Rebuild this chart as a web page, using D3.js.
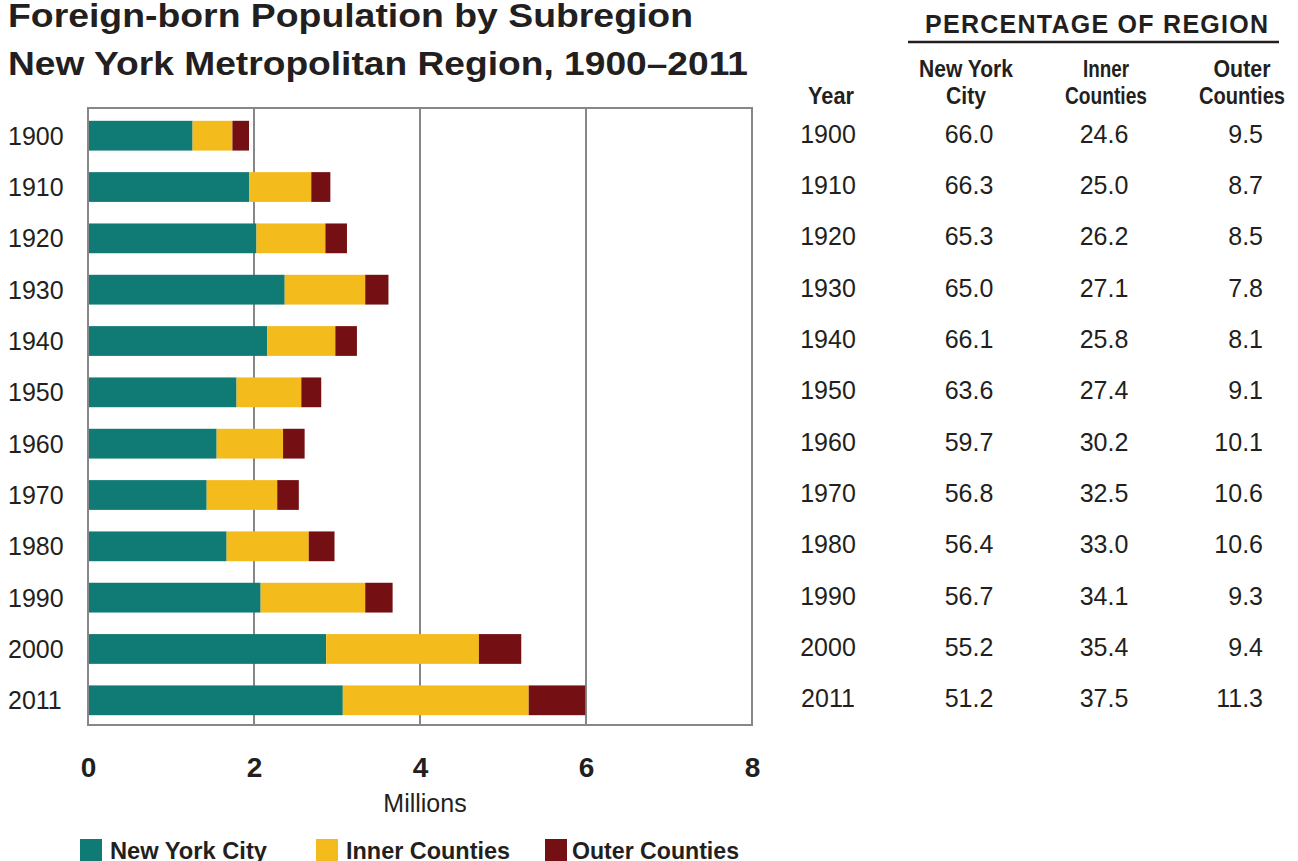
<!DOCTYPE html>
<html>
<head>
<meta charset="utf-8">
<script src="https://cdn.jsdelivr.net/npm/d3@7"></script>
<style>
  html, body { margin: 0; padding: 0; background: #fff; }
  svg { display: block; font-family: "Liberation Sans", Arial, Helvetica, sans-serif; }
</style>
</head>
<body>
<svg id="chart" width="1298" height="861"></svg>
<script>
// ---- Data ----
const years = ["1900","1910","1920","1930","1940","1950","1960","1970","1980","1990","2000","2011"];
const seriesNames = ["New York City","Inner Counties","Outer Counties"];
const nycMillions   = [1.26, 1.94, 2.03, 2.37, 2.16, 1.79, 1.55, 1.43, 1.67, 2.08, 2.87, 3.07];
const innerMillions = [0.48, 0.75, 0.83, 0.97, 0.82, 0.78, 0.80, 0.85, 0.99, 1.26, 1.84, 2.24];
const outerMillions = [0.20, 0.23, 0.26, 0.28, 0.26, 0.24, 0.26, 0.26, 0.31, 0.33, 0.51, 0.68];
const nycPct   = ["66.0","66.3","65.3","65.0","66.1","63.6","59.7","56.8","56.4","56.7","55.2","51.2"];
const innerPct = ["24.6","25.0","26.2","27.1","25.8","27.4","30.2","32.5","33.0","34.1","35.4","37.5"];
const outerPct = ["9.5","8.7","8.5","7.8","8.1","9.1","10.1","10.6","10.6","9.3","9.4","11.3"];
const xTicks = [0, 2, 4, 6, 8];
const colors = ["#107a74", "#f3bb1c", "#741013"];

const svg = d3.select("#chart");

// ---- Title ----
const title = svg.append("g").attr("fill", "#231f20").attr("font-weight", "bold").attr("font-size", 34);
title.append("text").attr("x", 8).attr("y", 27).attr("textLength", 685).attr("lengthAdjust", "spacingAndGlyphs")
  .text("Foreign-born Population by Subregion");
title.append("text").attr("x", 8).attr("y", 75).attr("textLength", 740).attr("lengthAdjust", "spacingAndGlyphs")
  .text("New York Metropolitan Region, 1900\u20132011");

// ---- Scales ----
const plot = {left: 88, right: 752, top: 108, bottom: 725};
const x = d3.scaleLinear().domain([0, 8]).range([plot.left, plot.right]);
const y = d3.scaleBand().domain(years).range([109, 727]).paddingInner(0.42).paddingOuter(0.23);

// stacked data
const rows = years.map((yr, i) => ({year: yr, nyc: nycMillions[i], inner: innerMillions[i], outer: outerMillions[i]}));
const stack = d3.stack().keys(["nyc", "inner", "outer"]);
const stacked = stack(rows);

// ---- Gridlines ----
svg.append("g").selectAll("line").data(xTicks.filter(t => t > 0 && t < 8)).join("line")
  .attr("x1", d => x(d)).attr("x2", d => x(d))
  .attr("y1", plot.top).attr("y2", plot.bottom)
  .attr("stroke", "#878787").attr("stroke-width", 2);

// ---- Bars ----
svg.append("g").selectAll("g").data(stacked).join("g")
  .attr("fill", (d, i) => colors[i])
  .selectAll("rect").data(d => d).join("rect")
  .attr("x", d => x(d[0]))
  .attr("width", d => x(d[1]) - x(d[0]))
  .attr("y", d => y(d.data.year))
  .attr("height", y.bandwidth());

// ---- Frame ----
svg.append("rect")
  .attr("x", plot.left).attr("y", plot.top)
  .attr("width", plot.right - plot.left).attr("height", plot.bottom - plot.top)
  .attr("fill", "none").attr("stroke", "#878787").attr("stroke-width", 2);

// ---- Year labels (left) ----
svg.append("g").selectAll("text").data(years).join("text")
  .attr("x", 8).attr("y", d => y(d) + y.bandwidth() / 2 + 9)
  .attr("font-size", 25).attr("fill", "#231f20")
  .text(d => d);

// ---- X axis ----
const xAxis = d3.axisBottom(x).tickValues(xTicks).tickSize(0).tickPadding(0).tickFormat(d3.format("d"));
const xg = svg.append("g").attr("transform", `translate(0, 777)`).call(xAxis);
xg.select(".domain").remove();
xg.selectAll("text").attr("dy", 0).attr("y", 0)
  .attr("font-size", 28).attr("font-weight", "bold").attr("fill", "#231f20")
  .attr("font-family", "Liberation Sans, Arial, sans-serif");
svg.append("text").attr("x", 425).attr("y", 812).attr("text-anchor", "middle")
  .attr("font-size", 25).attr("fill", "#231f20").text("Millions");

// ---- Legend ----
const legendPos = [{sx: 80, tx: 110, w: 157}, {sx: 316, tx: 346, w: 164}, {sx: 545, tx: 572, w: 167}];
const leg = svg.append("g");
seriesNames.forEach((name, i) => {
  leg.append("rect").attr("x", legendPos[i].sx).attr("y", 839).attr("width", 22).attr("height", 22).attr("fill", colors[i]);
  leg.append("text").attr("x", legendPos[i].tx).attr("y", 859)
    .attr("font-size", 24).attr("font-weight", "bold").attr("fill", "#231f20")
    .attr("textLength", legendPos[i].w).attr("lengthAdjust", "spacingAndGlyphs")
    .text(name);
});

// ---- Table ----
const tbl = svg.append("g").attr("fill", "#231f20");
tbl.append("text").attr("x", 925).attr("y", 33).attr("font-size", 25).attr("font-weight", "bold")
  .attr("textLength", 343).attr("lengthAdjust", "spacing").text("PERCENTAGE OF REGION");
tbl.append("line").attr("x1", 908).attr("x2", 1279).attr("y1", 42).attr("y2", 42)
  .attr("stroke", "#231f20").attr("stroke-width", 2.5);

const headers = [
  {x: 831, lines: [null, "Year"], w: [0, 46]},
  {x: 966, lines: ["New York", "City"], w: [94, 40]},
  {x: 1106, lines: ["Inner", "Counties"], w: [46, 82]},
  {x: 1242, lines: ["Outer", "Counties"], w: [57, 86]}
];
headers.forEach(h => {
  h.lines.forEach((ln, j) => {
    if (!ln) return;
    tbl.append("text").attr("x", h.x - h.w[j] / 2).attr("y", j === 0 ? 77 : 104)
      .attr("font-size", 23).attr("font-weight", "bold")
      .attr("textLength", h.w[j]).attr("lengthAdjust", "spacingAndGlyphs")
      .text(ln);
  });
});

const rowY = d => y(d) + y.bandwidth() / 2 + 7;
const cols = [
  {vals: years, x: 828, anchor: "middle"},
  {vals: nycPct, x: 969, anchor: "middle"},
  {vals: innerPct, x: 1104, anchor: "middle"},
  {vals: outerPct, x: 1263, anchor: "end"}
];
cols.forEach(c => {
  tbl.append("g").selectAll("text").data(years).join("text")
    .attr("x", c.x).attr("y", d => rowY(d)).attr("text-anchor", c.anchor)
    .attr("font-size", 25)
    .text((d, i) => c.vals[i]);
});
</script>
</body>
</html>
